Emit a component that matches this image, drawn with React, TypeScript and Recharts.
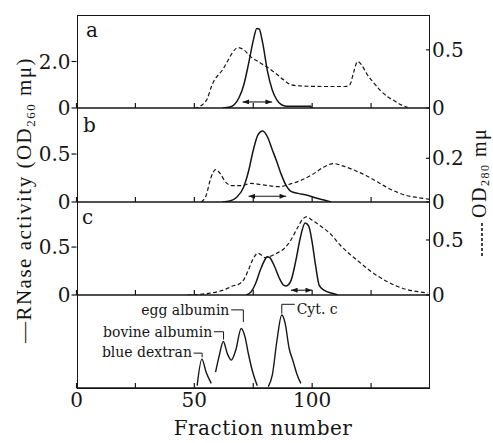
import React from 'react';
import { LineChart, Line, XAxis, YAxis, ReferenceLine, ReferenceDot } from 'recharts';

type Pt = [number, number];

// fraction axis
const fracTicks = [0, 25, 50, 75, 100, 125];
const fracLabels = [0, 50, 100];

// panel a: RNase activity (solid) and OD260 (dashed)
const rnaseA: Pt[] = [
  [62, 0], [65, 0.04], [67, 0.15], [69, 0.45], [71, 1.0], [73, 1.9], [75, 2.9], [76.5, 3.42],
  [77.5, 3.4], [79, 2.8], [81, 1.6], [83, 0.8], [85, 0.35], [87, 0.14], [89, 0.08], [94, 0.07],
  [99.5, 0.07], [99.6, 0],
];
const od260A: Pt[] = [
  [50, 0], [52, 0.01], [54, 0.04], [55.5, 0.08], [57, 0.17], [58.5, 0.24], [60, 0.28], [62, 0.33],
  [64, 0.4], [66, 0.47], [68.5, 0.52], [71, 0.5], [74, 0.44], [77, 0.4], [81, 0.35], [85, 0.29],
  [88, 0.24], [91, 0.2], [95, 0.19], [105, 0.185], [114, 0.185], [116, 0.2], [117.5, 0.3],
  [119.3, 0.4], [121, 0.37], [123, 0.3], [126.4, 0.21], [129, 0.15], [132, 0.097], [135, 0.06],
  [138, 0.025], [140.5, 0.005],
];
const arrowA = [70.5, 83];

// panel b: RNase activity (solid) and OD280 (dashed)
const rnaseB: Pt[] = [
  [62, 0], [65, 0.01], [68, 0.05], [71, 0.16], [73, 0.32], [75, 0.54], [77, 0.7], [79, 0.74],
  [81, 0.68], [83, 0.55], [85, 0.42], [87, 0.28], [89, 0.17], [91, 0.11], [94, 0.09], [98, 0.07],
  [102, 0.04], [105, 0.02], [108, 0],
];
const od280B: Pt[] = [
  [53, 0], [55, 0.03], [57, 0.11], [59, 0.148], [61, 0.13], [63, 0.095], [66, 0.075], [70, 0.075],
  [74, 0.085], [78, 0.08], [82, 0.074], [86, 0.07], [90, 0.08], [95, 0.098], [100, 0.125],
  [105, 0.16], [109, 0.176], [113, 0.165], [118, 0.145], [123, 0.12], [128, 0.09], [132, 0.065],
  [136, 0.045], [140, 0.03], [145, 0.02], [150, 0.012],
];
const arrowB = [73, 89];

// panel c
const rnaseC: Pt[] = [
  [72, 0], [74, 0.03], [76, 0.12], [78, 0.26], [80, 0.37], [81, 0.4], [82, 0.39], [84, 0.3],
  [86, 0.18], [88, 0.1], [89, 0.095], [91, 0.15], [93, 0.35], [95, 0.6], [97, 0.75], [98.5, 0.72],
  [100, 0.55], [101.5, 0.3], [103, 0.1], [105, 0.05], [108, 0.02], [111, 0],
];
const od280C: Pt[] = [
  [47, 0], [52, 0.005], [56, 0.015], [60, 0.03], [63, 0.05], [66, 0.08], [69, 0.1], [71, 0.14],
  [73, 0.23], [75, 0.33], [77, 0.38], [78, 0.37], [80, 0.34], [82, 0.35], [85, 0.38], [88, 0.42],
  [91, 0.5], [94, 0.62], [96, 0.69], [97.5, 0.71], [100, 0.68], [104, 0.62], [108, 0.55],
  [112, 0.45], [116, 0.37], [120, 0.3], [124, 0.23], [128, 0.17], [132, 0.12], [136, 0.08],
  [140, 0.05], [145, 0.03], [149, 0.018],
];
const arrowC = [91, 100];

// panel d: marker proteins (relative)
const blueDextran: Pt[] = [[51.2, 0.025], [53.2, 0.31], [55, 0.17], [57.2, 0.05]];
const albumins: Pt[] = [
  [59, 0.17], [60.5, 0.34], [62.3, 0.5], [64, 0.37], [65.7, 0.3], [67.5, 0.4], [69.9, 0.64],
  [71.5, 0.55], [73, 0.36], [75, 0.15], [76.7, 0.025],
];
const cytC: Pt[] = [
  [81.4, 0.015], [83.1, 0.14], [85, 0.5], [87.1, 0.785], [88.5, 0.7], [90.2, 0.43], [92, 0.28],
  [93.5, 0.15], [95.2, 0.05],
];
const markerNotes = [
  { name: 'egg albumin', side: 'end', text: [65.3, 0.84], bracket: [[65.6, 0.84], [70.8, 0.84], [70.8, 0.71]] },
  { name: 'bovine albumin', side: 'end', text: [58.0, 0.6], bracket: [[58.3, 0.605], [62.4, 0.605], [62.4, 0.52]] },
  { name: 'blue dextran', side: 'end', text: [49.4, 0.39], bracket: [[49.7, 0.375], [53.3, 0.375], [53.3, 0.33]] },
  { name: 'Cyt. c', side: 'start', text: [93.0, 0.85], bracket: [[92.6, 0.9], [87.1, 0.9], [87.1, 0.8]] },
];

const INK = '#161616';
const SERIF = '"DejaVu Serif", serif';
const TITLE = '"Liberation Serif", "DejaVu Serif", serif';

const toRows = (arr: Pt[]) => arr.map(([f, v]) => ({ f, v }));

const FracTick = (props: any) => {
  const { x, y, payload, showLabel } = props;
  return (
    <g>
      <line x1={x} x2={x} y1={y} y2={y - 5} stroke={INK} strokeWidth={1.2} />
      {showLabel && fracLabels.includes(payload.value) && (
        <text x={x} y={y + 19} textAnchor="middle" fill={INK} fontSize={20} fontFamily={SERIF}>
          {payload.value}
        </text>
      )}
    </g>
  );
};

const RightTick = (props: any) => {
  const { x, y, payload } = props;
  const v = payload.value;
  return (
    <g>
      <line x1={x - 4} x2={x} y1={y} y2={y} stroke={INK} strokeWidth={1.2} />
      <text x={x + 2} y={y} dy="0.36em" fill={INK} fontSize={20} fontFamily={SERIF}>
        {v === 0 ? '0' : v.toFixed(1)}
      </text>
    </g>
  );
};

const fmtLeft = (v: number) => (v === 0 ? '0' : v.toFixed(1));

type PanelProps = {
  top: number;
  plotH: number;
  solid?: Pt[];
  dashed?: Pt[];
  leftDomain: number[];
  rightDomain: number[];
  leftTicks?: number[];
  rightTicks?: number[];
  arrow?: number[];
  arrowY?: number;
  bottom?: boolean;
  children?: React.ReactNode;
};

const Panel = ({ top, plotH, solid, dashed, leftDomain, rightDomain, leftTicks, rightTicks, arrow, arrowY, bottom, children }: PanelProps) => {
  const xH = bottom ? 32 : 16;
  return (
    <div style={{ position: 'absolute', left: 0, top: top - 15 }}>
      <LineChart width={493} height={plotH + 15 + xH} margin={{ top: 15, right: 23, left: 36.5, bottom: 0 }}>
        <XAxis
          type="number"
          dataKey="f"
          domain={[0, 150]}
          ticks={fracTicks}
          allowDataOverflow
          height={xH}
          tickLine={false}
          tickSize={0}
          tickMargin={0}
          axisLine={{ stroke: INK, strokeWidth: 1.4 }}
          tick={<FracTick showLabel={bottom} />}
        />
        <YAxis
          yAxisId="l"
          domain={leftDomain}
          ticks={leftTicks}
          allowDataOverflow
          width={40}
          axisLine={false}
          tickSize={leftTicks ? 5 : 0}
          tickMargin={1}
          tickLine={leftTicks ? { stroke: INK, strokeWidth: 1.2 } : false}
          tick={leftTicks ? { fill: INK, fontSize: 20, fontFamily: SERIF } : false}
          tickFormatter={fmtLeft}
        />
        <YAxis
          yAxisId="r"
          orientation="right"
          domain={rightDomain}
          ticks={rightTicks}
          allowDataOverflow
          width={40}
          axisLine={false}
          tickLine={false}
          tickSize={0}
          tickMargin={0}
          tick={rightTicks ? <RightTick /> : false}
        />
        {dashed && (
          <Line
            yAxisId="r"
            data={toRows(dashed)}
            dataKey="v"
            type="monotone"
            stroke={INK}
            strokeWidth={1.2}
            strokeDasharray="4 2.5"
            dot={false}
            isAnimationActive={false}
          />
        )}
        {solid && (
          <Line
            yAxisId="l"
            data={toRows(solid)}
            dataKey="v"
            type="monotone"
            stroke={INK}
            strokeWidth={1.5}
            dot={false}
            isAnimationActive={false}
          />
        )}
        {arrow && (
          <ReferenceLine
            yAxisId="l"
            segment={[{ x: arrow[0], y: arrowY }, { x: arrow[1], y: arrowY }]}
            stroke={INK}
            strokeWidth={1.1}
            markerStart="url(#ahead)"
            markerEnd="url(#ahead)"
          />
        )}
        {children}
      </LineChart>
    </div>
  );
};

const noteShape = (label: string, side: string) => (p: any) => (
  <text
    x={p.cx + (side === 'end' ? -1 : 1)}
    y={p.cy}
    dy="0.35em"
    textAnchor={side}
    fill={INK}
    fontSize={14}
    fontFamily={SERIF}
  >
    {label}
  </text>
);

export default function App() {
  return (
    <div style={{ position: 'absolute', left: 0, top: 0, width: 493, height: 443, background: '#fff', overflow: 'hidden' }}>
      <svg width={0} height={0} style={{ position: 'absolute' }}>
        <defs>
          <marker id="ahead" viewBox="0 0 8 6" refX={8} refY={3} markerWidth={7} markerHeight={5} orient="auto-start-reverse" markerUnits="userSpaceOnUse">
            <path d="M0,0 L8,3 L0,6 z" fill={INK} />
          </marker>
        </defs>
      </svg>

      <Panel top={15} plotH={93} solid={rnaseA} dashed={od260A} leftDomain={[0, 4]} rightDomain={[0, 0.8]}
        leftTicks={[0, 2]} rightTicks={[0, 0.5]} arrow={arrowA} arrowY={0.26} />
      <Panel top={108} plotH={94} solid={rnaseB} dashed={od280B} leftDomain={[0, 0.98]} rightDomain={[0, 0.43]}
        leftTicks={[0, 0.5]} rightTicks={[0, 0.2]} arrow={arrowB} arrowY={0.06} />
      <Panel top={202} plotH={93} solid={rnaseC} dashed={od280C} leftDomain={[0, 0.97]} rightDomain={[0, 0.845]}
        leftTicks={[0, 0.5]} rightTicks={[0, 0.5]} arrow={arrowC} arrowY={0.05} />
      <Panel top={295} plotH={93} leftDomain={[0, 1]} rightDomain={[0, 1]} bottom>
        {[blueDextran, albumins, cytC].map((seg, i) => (
          <Line
            key={i}
            yAxisId="l"
            data={toRows(seg)}
            dataKey="v"
            type="monotone"
            stroke={INK}
            strokeWidth={1.4}
            dot={false}
            isAnimationActive={false}
          />
        ))}
        {markerNotes.map((n) => (
          <ReferenceLine
            key={n.name + 'h'}
            yAxisId="l"
            segment={[{ x: n.bracket[0][0], y: n.bracket[0][1] }, { x: n.bracket[1][0], y: n.bracket[1][1] }]}
            stroke={INK}
            strokeWidth={1}
          />
        ))}
        {markerNotes.map((n) => (
          <ReferenceLine
            key={n.name + 'v'}
            yAxisId="l"
            segment={[{ x: n.bracket[1][0], y: n.bracket[1][1] }, { x: n.bracket[2][0], y: n.bracket[2][1] }]}
            stroke={INK}
            strokeWidth={1}
          />
        ))}
        {markerNotes.map((n) => (
          <ReferenceDot key={n.name} yAxisId="l" x={n.text[0]} y={n.text[1]} r={0} shape={noteShape(n.name, n.side)} />
        ))}
      </Panel>

      {/* outer frame */}
      <div style={{ position: 'absolute', left: 76.5, top: 15, width: 353.5, height: 373.5, border: `1.4px solid ${INK}`, boxSizing: 'border-box', pointerEvents: 'none' }} />

      <svg width={493} height={443} style={{ position: 'absolute', left: 0, top: 0, pointerEvents: 'none' }}>
        <g fill={INK} fontFamily={SERIF} fontSize={20}>
          <text x={86} y={37}>a</text>
          <text x={83} y={132}>b</text>
          <text x={82} y={224}>c</text>
        </g>
        <text x={263} y={435} textAnchor="middle" fill={INK} fontFamily={SERIF} fontSize={20} letterSpacing={0.5}>
          Fraction number
        </text>
        <text transform="translate(31,200) rotate(-90)" textAnchor="middle" fill={INK} fontFamily={TITLE} fontSize={21} letterSpacing={1.5}>
          —RNase activity  (OD<tspan fontSize={13} dy={4}>260</tspan><tspan dy={-4}>  mμ)</tspan>
        </text>
        <line x1={482} x2={482} y1={223} y2={257} stroke={INK} strokeWidth={1.6} strokeDasharray="3 2" />
        <text transform="translate(486,218) rotate(-90)" textAnchor="start" fill={INK} fontFamily={TITLE} fontSize={20} letterSpacing={1.5}>
          OD<tspan fontSize={12} dy={3}>280</tspan><tspan dy={-3}>  mμ</tspan>
        </text>
      </svg>
    </div>
  );
}
